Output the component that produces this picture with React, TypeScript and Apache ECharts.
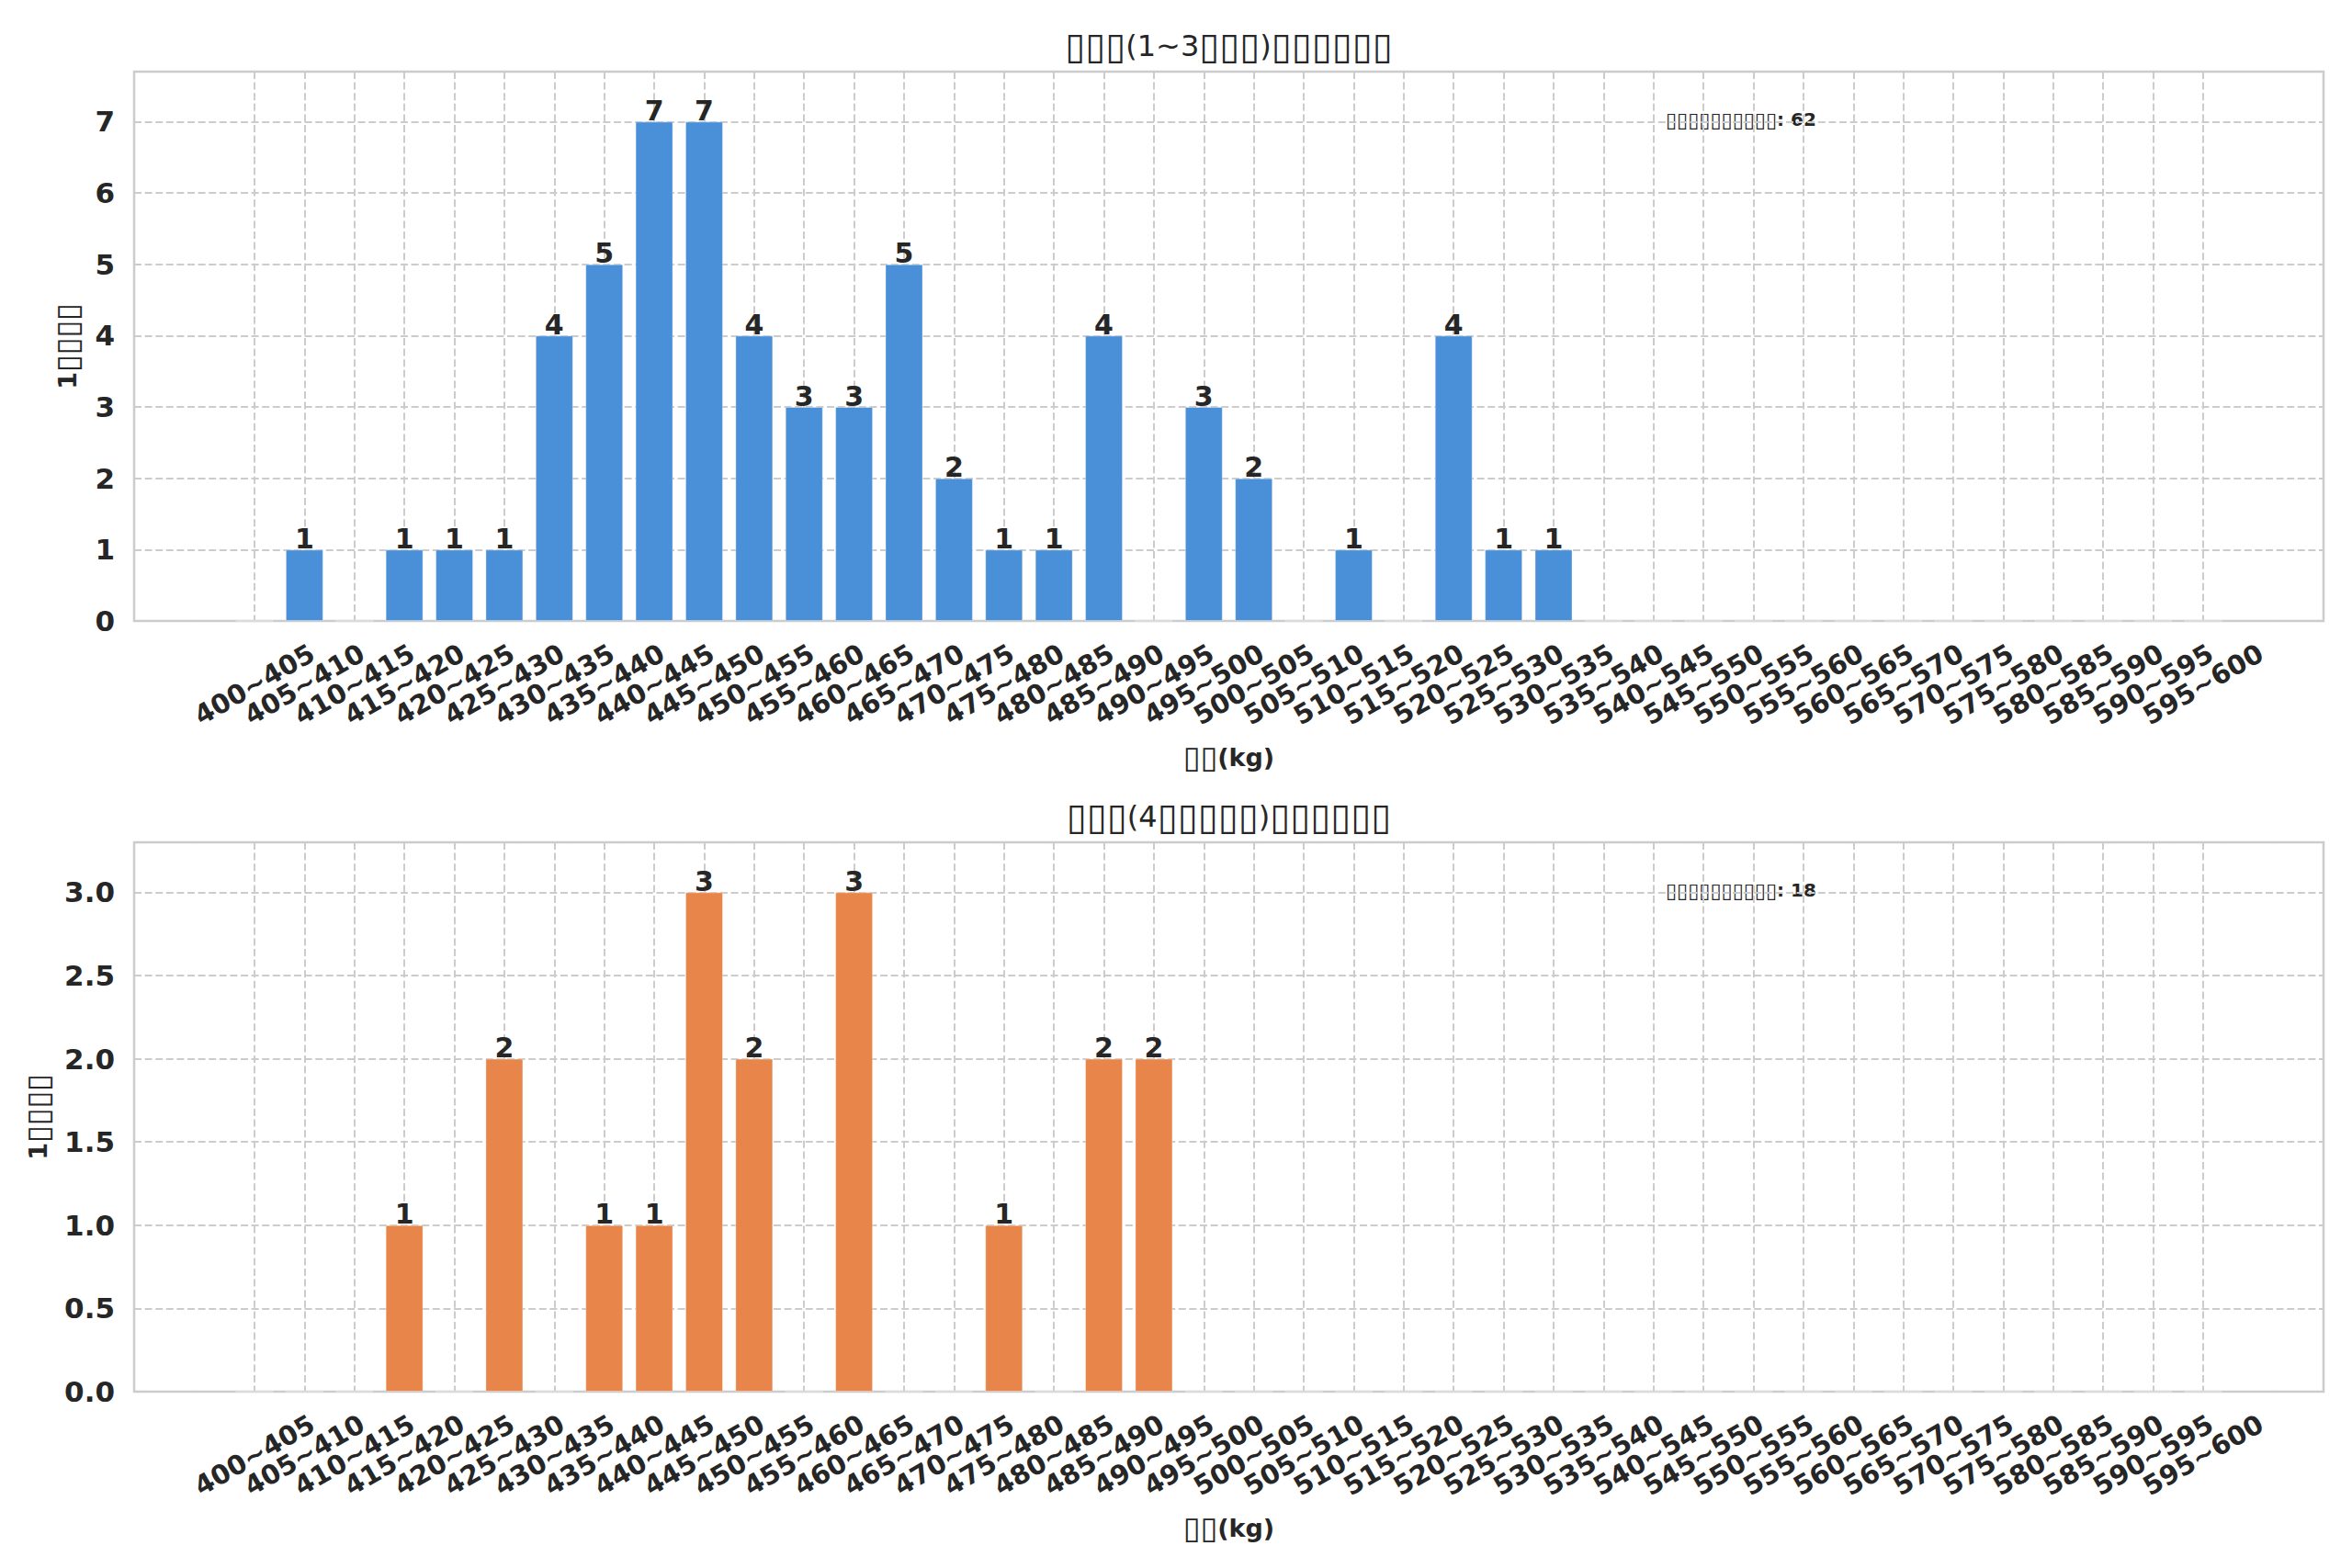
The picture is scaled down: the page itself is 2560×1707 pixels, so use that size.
import React, { useEffect, useRef } from 'react';
import * as echarts from 'echarts';

const WEIGHT_BINS = [
  '400~405', '405~410', '410~415', '415~420', '420~425', '425~430', '430~435', '435~440',
  '440~445', '445~450', '450~455', '455~460', '460~465', '465~470', '470~475', '475~480',
  '480~485', '485~490', '490~495', '495~500', '500~505', '505~510', '510~515', '515~520',
  '520~525', '525~530', '530~535', '535~540', '540~545', '545~550', '550~555', '555~560',
  '560~565', '565~570', '570~575', '575~580', '580~585', '585~590', '590~595', '595~600',
];

const COUNTS_TOP = [
  0, 1, 0, 1, 1, 1, 4, 5, 7, 7,
  4, 3, 3, 5, 2, 1, 1, 4, 0, 3,
  2, 0, 1, 0, 4, 1, 1, 0, 0, 0,
  0, 0, 0, 0, 0, 0, 0, 0, 0, 0,
];

const COUNTS_BOTTOM = [
  0, 0, 0, 1, 0, 2, 0, 1, 1, 3,
  2, 0, 3, 0, 0, 1, 0, 2, 2, 0,
  0, 0, 0, 0, 0, 0, 0, 0, 0, 0,
  0, 0, 0, 0, 0, 0, 0, 0, 0, 0,
];

const Y_MAX_TOP = 7.7;
const Y_MAX_BOTTOM = 3.3;
const Y_STEP_TOP = 1;
const Y_STEP_BOTTOM = 0.5;

const TITLE_TOP = '▯▯▯(1~3▯▯▯)▯▯▯▯▯▯';
const TITLE_BOTTOM = '▯▯▯(4▯▯▯▯▯)▯▯▯▯▯▯';
const Y_NAME = '1▯▯▯▯';
const X_NAME = '▯▯(kg)';
const NOTE_LABEL = '▯▯▯▯▯▯▯▯▯▯';
const TOTAL_TOP = 62;
const TOTAL_BOTTOM = 18;

const FONT = 'DejaVu Sans';
const TEXT = '#262626';
const GRIDC = '#cccccc';
const BLUE = '#4A90D9';
const ORANGE = '#E8854A';

// wrap runs of box glyphs in a rich-text token so they can be sized like missing-glyph boxes
const boxes = (s: string) => s.replace(/▯+/g, (m) => `{t|${m}}`);

export default function App() {
  const ref = useRef<HTMLDivElement>(null);

  useEffect(() => {
    document.body.style.margin = '0';
    if (!ref.current) return;
    const chart = echarts.init(ref.current, null, { renderer: 'svg' });

    const outerL = 146;
    const outerW = 2383;
    const innerL = 277;
    const innerW = 2121;
    const plotH = 598;
    const tops = [78, 917];

    const grids: any[] = [];
    const xAxes: any[] = [];
    const yAxes: any[] = [];
    const series: any[] = [];
    const graphics: any[] = [];

    const panels = [
      { data: COUNTS_TOP, max: Y_MAX_TOP, step: Y_STEP_TOP, color: BLUE, title: TITLE_TOP, total: TOTAL_TOP, yGap: 56, fmt: (v: number) => String(v) },
      { data: COUNTS_BOTTOM, max: Y_MAX_BOTTOM, step: Y_STEP_BOTTOM, color: ORANGE, title: TITLE_BOTTOM, total: TOTAL_BOTTOM, yGap: 88, fmt: (v: number) => v.toFixed(1) },
    ];

    const gridLine = { color: GRIDC, width: 2, type: [8, 3.6] };
    const nameStyle = {
      fontSize: 27, fontWeight: 'bold', color: TEXT, fontFamily: FONT,
      rich: { t: { fontSize: 34, fontWeight: 'normal', color: TEXT, fontFamily: FONT } },
    };

    panels.forEach((p, k) => {
      const top = tops[k];
      grids.push({ left: outerL, top, width: outerW, height: plotH, show: true, borderColor: GRIDC, borderWidth: 2.5, backgroundColor: 'transparent', containLabel: false });
      grids.push({ left: innerL, top, width: innerW, height: plotH, show: false, containLabel: false });
      const g0 = k * 2;
      const g1 = k * 2 + 1;
      xAxes.push({ type: 'value', gridIndex: g0, min: 0, max: 1, show: false });
      xAxes.push({
        type: 'category', gridIndex: g1, data: WEIGHT_BINS, boundaryGap: false,
        axisLine: { show: false }, axisTick: { show: false },
        axisLabel: {
          interval: 0, rotate: 30, align: 'center', verticalAlign: 'middle', margin: 69,
          fontSize: 29, fontWeight: 'bold', color: TEXT, fontFamily: FONT,
        },
        splitLine: { show: true, interval: 0, lineStyle: gridLine },
        name: boxes(X_NAME), nameLocation: 'middle', nameGap: 131,
        nameTextStyle: nameStyle,
      });
      yAxes.push({
        type: 'value', gridIndex: g0, min: 0, max: p.max, interval: p.step,
        axisLine: { show: false }, axisTick: { show: false },
        axisLabel: { showMaxLabel: false, margin: 21, fontSize: 31, fontWeight: 'bold', color: TEXT, fontFamily: FONT, formatter: p.fmt },
        splitLine: { show: true, lineStyle: gridLine },
        name: boxes(Y_NAME), nameLocation: 'middle', nameRotate: 90, nameGap: p.yGap,
        nameTextStyle: nameStyle,
      });
      yAxes.push({ type: 'value', gridIndex: g1, min: 0, max: p.max, show: false, splitLine: { show: false } });
      series.push({
        type: 'bar', xAxisIndex: g1, yAxisIndex: g1, data: p.data, barWidth: 41,
        itemStyle: { color: p.color, borderColor: 'rgba(255,255,255,0.35)', borderWidth: 1 },
        label: {
          show: true, position: 'top', distance: -3,
          formatter: (d: any) => (d.value ? String(d.value) : ''),
          fontSize: 30, fontWeight: 'bold', color: TEXT, fontFamily: FONT,
        },
      });
      graphics.push({
        type: 'text', x: outerL + outerW / 2, y: top - 28,
        style: {
          text: boxes(p.title), font: `normal 32px "${FONT}"`, fill: TEXT, align: 'center', verticalAlign: 'middle',
          rich: { t: { fontSize: 40, fontFamily: FONT, fontWeight: 'normal', fill: TEXT } },
        },
      });
      graphics.push({
        type: 'text', x: 1813, y: top + 52,
        style: {
          text: boxes(NOTE_LABEL) + `: ${p.total}`, font: `bold 20px "${FONT}"`, fill: TEXT, align: 'left', verticalAlign: 'middle',
          rich: { t: { fontSize: 22, fontFamily: FONT, fontWeight: 'normal', fill: TEXT } },
        },
      });
    });

    chart.setOption({
      animation: false,
      backgroundColor: '#ffffff',
      grid: grids,
      xAxis: xAxes,
      yAxis: yAxes,
      series,
      graphic: graphics,
    });

    return () => chart.dispose();
  }, []);

  return <div ref={ref} style={{ width: 2560, height: 1707 }} />;
}
